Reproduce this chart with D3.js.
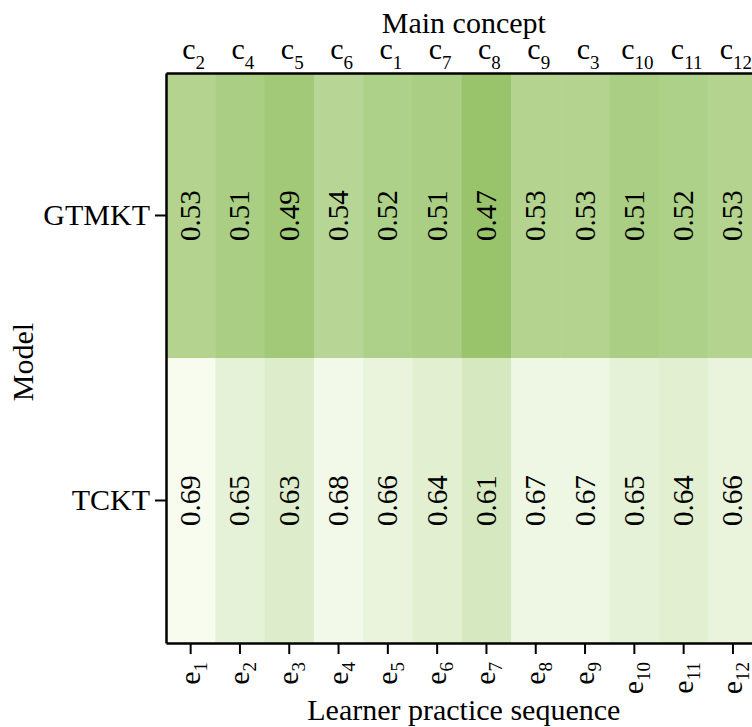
<!DOCTYPE html>
<html>
<head>
<meta charset="utf-8">
<script src="https://cdn.jsdelivr.net/npm/d3@7"></script>
<style>
  html, body { margin: 0; padding: 0; background: #fff; overflow: hidden; }
  svg { display: block; }
</style>
</head>
<body>
<svg id="chart" width="752" height="727" style="font-family: 'Liberation Serif', 'Times New Roman', serif;"></svg>
<script>
// ---- data ----
const sequence = ["1","2","3","4","5","6","7","8","9","10","11","12"];          // e subscripts
const concepts = ["2","4","5","6","1","7","8","9","3","10","11","12"];          // c subscripts
const models = ["GTMKT", "TCKT"];
const gtmktValues = [0.53, 0.51, 0.49, 0.54, 0.52, 0.51, 0.47, 0.53, 0.53, 0.51, 0.52, 0.53];
const tcktValues  = [0.69, 0.65, 0.63, 0.68, 0.66, 0.64, 0.61, 0.67, 0.67, 0.65, 0.64, 0.66];

const seriesByModel = { GTMKT: gtmktValues, TCKT: tcktValues };
const cells = [];
models.forEach(m => seriesByModel[m].forEach((v, i) => cells.push({ model: m, idx: i, value: v })));

const FONT = "'Liberation Serif', 'Times New Roman', serif";

// ---- layout ----
const svg = d3.select("#chart");
const mLeft = 166, mTop = 73, colW = 49.3, plotH = 570;
const mRight = mLeft + colW * sequence.length;
const mBottom = mTop + plotH;

const x = d3.scaleBand().domain(d3.range(sequence.length)).range([mLeft, mRight]).padding(0);
const y = d3.scaleBand().domain(models).range([mTop, mBottom]).padding(0);

const color = d3.scaleLinear()
  .domain([0.47, 0.69])
  .range(["#99c46b", "#f7fcef"])
  .interpolate(d3.interpolateRgb)
  .clamp(true);

// cells
svg.append("g").selectAll("rect").data(cells).join("rect")
  .attr("x", d => x(d.idx))
  .attr("y", d => y(d.model))
  .attr("width", x.bandwidth() + 0.5)
  .attr("height", y.bandwidth())
  .attr("fill", d => color(d.value));

// cell labels
svg.append("g").selectAll("text").data(cells).join("text")
  .attr("transform", d => `translate(${x(d.idx) + x.bandwidth() / 2 + 9.5},${y(d.model) + y.bandwidth() / 2}) rotate(-90)`)
  .attr("text-anchor", "middle")
  .attr("fill", "#000")
  .style("font-family", FONT)
  .style("font-size", "29px")
  .text(d => d.value.toFixed(2));

// bottom axis
const bottomAxis = d3.axisBottom(x).tickSize(11).tickSizeOuter(0).tickFormat("");
const gB = svg.append("g").attr("transform", `translate(0,${mBottom})`).call(bottomAxis);
gB.selectAll("line").attr("stroke", "#000").attr("stroke-width", 2);
gB.select(".domain").attr("stroke", "#000").attr("stroke-width", 2.5);
gB.selectAll(".tick").each(function(d) {
  const t = d3.select(this).append("text")
    .attr("transform", `translate(9,19) rotate(-90)`)
    .attr("text-anchor", "end")
    .attr("fill", "#000")
    .style("font-family", FONT)
    .style("font-size", "30px");
  t.append("tspan").text("e");
  t.append("tspan").attr("dy", 7).style("font-size", "19px").text(sequence[d]);
});

// top axis (line + concept labels)
const topAxis = d3.axisTop(x).tickSize(0).tickSizeOuter(0).tickFormat("");
const gT = svg.append("g").attr("transform", `translate(0,${mTop})`).call(topAxis);
gT.select(".domain").attr("stroke", "#000").attr("stroke-width", 2.5);
gT.selectAll(".tick").each(function(d) {
  const t = d3.select(this).append("text")
    .attr("x", 3)
    .attr("y", -14)
    .attr("text-anchor", "middle")
    .attr("fill", "#000")
    .style("font-family", FONT)
    .style("font-size", "30px");
  t.append("tspan").text("c");
  t.append("tspan").attr("dy", 10).style("font-size", "19px").text(concepts[d]);
});

// left axis
const leftAxis = d3.axisLeft(y).tickSize(11).tickSizeOuter(0).tickPadding(5);
const gL = svg.append("g").attr("transform", `translate(${mLeft},0)`).call(leftAxis);
gL.select(".domain").attr("stroke", "#000").attr("stroke-width", 2.5);
gL.selectAll("line").attr("stroke", "#000").attr("stroke-width", 2);
gL.selectAll(".tick text")
  .attr("fill", "#000")
  .style("font-family", FONT)
  .style("font-size", "30px")
  .attr("dy", "0.33em");

// axis titles
const title = (sel) => sel.attr("fill", "#000").style("font-family", FONT).style("font-size", "30px").attr("text-anchor", "middle");

svg.append("text").call(title)
  .attr("x", (mLeft + mRight) / 2 + 2)
  .attr("y", 33)
  .text("Main concept");

svg.append("text").call(title)
  .attr("x", (mLeft + mRight) / 2 + 2)
  .attr("y", 720)
  .text("Learner practice sequence");

svg.append("text").call(title)
  .attr("transform", `translate(33,${(mTop + mBottom) / 2 + 4}) rotate(-90)`)
  .text("Model");
</script>
</body>
</html>
